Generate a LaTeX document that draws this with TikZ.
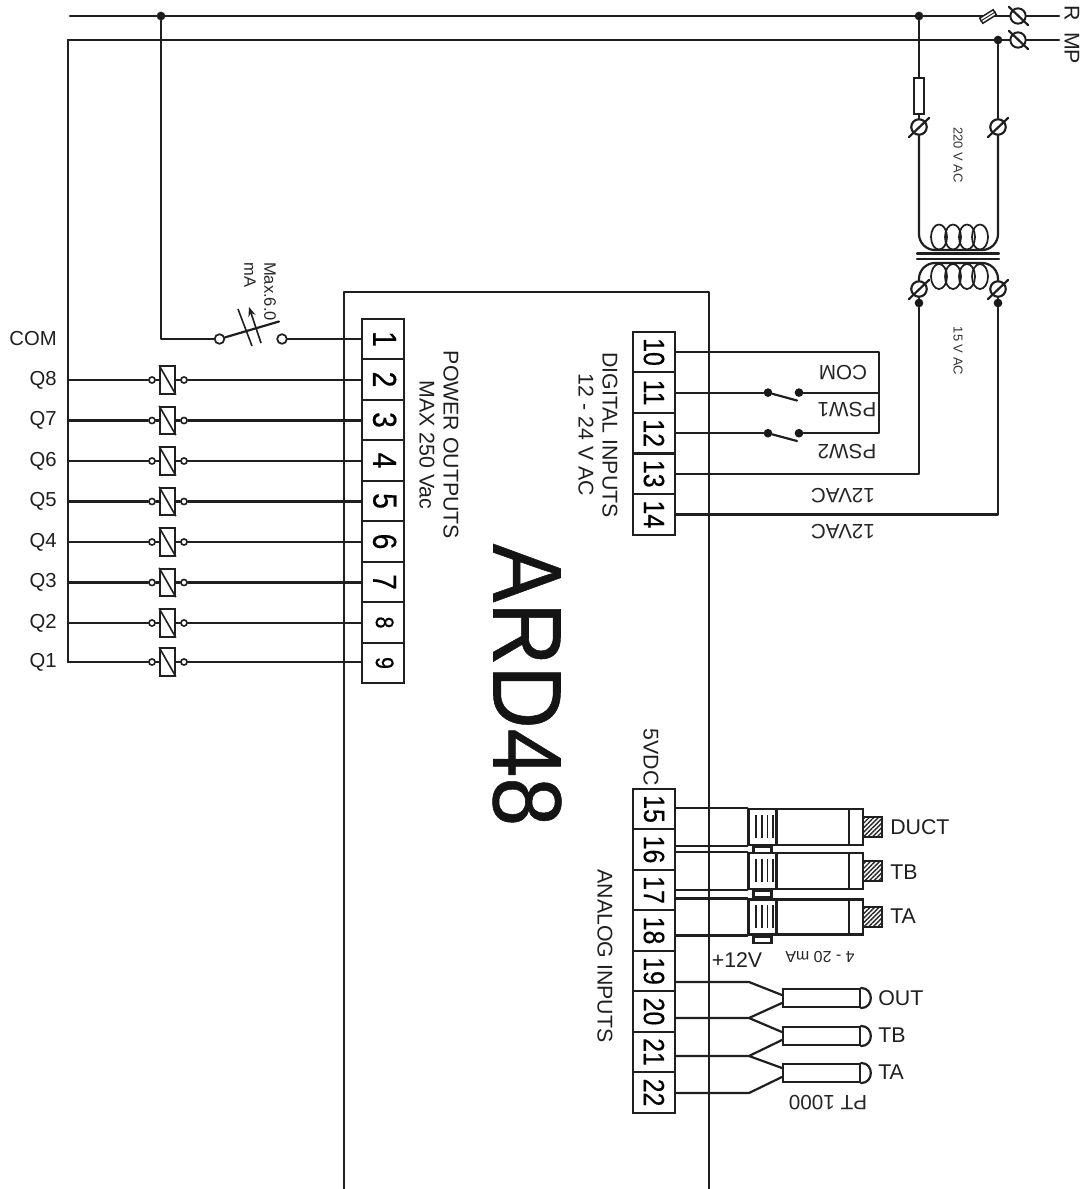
\documentclass[tikz,border=0pt]{standalone}
\usepackage{fontspec}
\setmainfont{Liberation Sans}
\usetikzlibrary{patterns.meta,arrows.meta,calc}
\newcommand{\rotL}[1]{\rotatebox{-90}{#1}}
\newcommand{\rotU}[1]{\rotatebox{180}{#1}}
\newcommand{\heavy}{\addfontfeatures{FakeBold=0.4}}
\newcommand{\bigcell}[1]{\hspace*{2.5pt}\rotatebox{-90}{\fontsize{25}{25}\selectfont\heavy\scalebox{0.85}[1]{#1}}}
\newcommand{\smallcell}[1]{\hspace*{2.5pt}\rotatebox{-90}{\fontsize{19}{19}\selectfont\heavy\scalebox{0.85}[1]{#1}}}
\newcommand{\ancell}[1]{\rotatebox{-90}{\fontsize{22}{22}\selectfont\heavy\scalebox{0.85}[1]{#1}}}
\tikzset{
  wire/.style={line width=1.65pt,line cap=round,line join=round,black!88},
  cell/.style={draw=black!88,line width=1.5pt,fill=white,rectangle,inner sep=0pt,minimum width=31pt,minimum height=30.4pt},
  dot/.style={circle,fill=black!90,inner sep=0pt,minimum size=6.5pt},
  smallc/.style={circle,draw=black!88,line width=1.2pt,fill=white,inner sep=0pt,minimum size=4.6pt},
  swc/.style={circle,draw=black!88,line width=1.3pt,fill=white,inner sep=0pt,minimum size=7.2pt},
  termc/.style={circle,draw=black!88,line width=1.5pt,fill=white,inner sep=0pt,minimum size=11.5pt},
  relayb/.style={rectangle,draw=black!88,line width=1.5pt,fill=white,inner sep=0pt,minimum width=11pt,minimum height=20.5pt},
  lab/.style={inner sep=0pt,font=\fontsize{16}{16}\selectfont,text=black!88},
  qlab/.style={inner sep=0pt,font=\fontsize{15.2}{15.2}\selectfont,text=black!88},
  sm/.style={inner sep=0pt,font=\fontsize{15.5}{15.5}\selectfont,text=black!85},
  tiny/.style={inner sep=0pt,font=\fontsize{9.7}{9.7}\selectfont,text=black!80},
  box/.style={rectangle,draw=black!88,line width=1.6pt,fill=white,inner sep=0pt},
  hatchb/.style={rectangle,draw=black!88,line width=1.5pt,inner sep=0pt,minimum width=14pt,minimum height=15pt,pattern={Lines[angle=45,distance=2.4pt,line width=1pt]},pattern color=black!85}
}
\begin{document}
\begin{tikzpicture}[x=0.75pt,y=-0.75pt]
\useasboundingbox (0,0) rectangle (1091,1189);
% main box
\coordinate (mbl) at (344,1189); \coordinate (mtl) at (344,292);
\coordinate (mtr) at (709,292); \coordinate (mbr) at (709,1189);
% terminal blocks
\foreach \n/\y in {1/339,2/379.5,3/420,4/460.5,5/501,6/541.5,7/582}
  \node[cell] (t\n) at (383,\y) {\bigcell{\n}};
\foreach \n/\y in {8/622.5,9/663}
  \node[cell] (t\n) at (383,\y) {\smallcell{\n}};
\foreach \n/\y in {10/352,11/392.6,12/433.2,13/473.8,14/514.4,15/809,16/849.5,17/890,18/930.5,19/971,20/1011.5,21/1052,22/1092.5}
  \node[cell] (t\n) at (654,\y) {\ancell{\n}};
% top rails
\coordinate (ra) at (70,16); \coordinate (mpa) at (68,40);
\coordinate (rb) at (1059,16); \coordinate (mpb) at (1059,40);
\node[dot] (d1) at (161,16) {};
\node[dot] (d2) at (919,16) {};
\node[dot] (d3) at (998,40) {};
\draw[wire] (ra) -- (rb);
\draw[wire] (mpa) -- (mpb);
\node[termc] (tR) at (1018,16) {};
\node[termc] (tM) at (1018,40) {};
\draw[wire] (1009,7) -- (1028,25);
\draw[wire] (1009,31) -- (1028,49);
\draw[line width=1.1pt,fill=white,draw=black!88,rotate around={32:(988,16.5)}] (980,13.5) rectangle (996,19.5);
\draw[line width=0.7pt,black!88,rotate around={32:(988,16.5)}] (979,16.5) -- (997,16.5);
% transformer
\node[box,minimum width=7.5pt,minimum height=27pt] (fu) at (919,96) {};
\node[termc] (tp1) at (919,127) {};
\node[termc] (tp2) at (998,127) {};
\node[termc] (ts1) at (919,289) {};
\node[termc] (ts2) at (998,289) {};
\draw[wire] (d2) -- (fu.north);
\draw[wire] (fu.south) -- (tp1);
\draw[wire] (d3) -- (tp2);
\draw[wire,rounded corners=12pt] (tp1) -- (919,250) -- (998,250) -- (tp2);
\draw[wire,rounded corners=12pt] (ts1) -- (919,263) -- (998,263) -- (ts2);
\foreach \x in {939,953,967,980}{
  \draw[line width=1.3pt,black!88] (\x,237) ellipse [x radius=8,y radius=12.5];
  \draw[line width=1.3pt,black!88] (\x,276.5) ellipse [x radius=8,y radius=12.5];
}
\node[termc] at (tp1) {}; \node[termc] at (tp2) {};
\foreach \a in {919,998}
  \draw[wire] (\a-10,137) -- (\a+10,118);
\draw[wire] (917,253.5) -- (999,253.5);
\draw[wire] (917,258.7) -- (999,258.7);
\node[dot] (d4) at (919,303) {};
\node[dot] (d5) at (998,303) {};
\node[tiny] at (958,155) {\rotL{220 V AC}};
\node[tiny] at (958,351) {\rotL{15 V AC}};
% digital wiring
\node[dot] (s1a) at (768,392.6) {};
\node[dot] (s1b) at (799,392.6) {};
\node[dot] (s2a) at (768,433.2) {};
\node[dot] (s2b) at (799,433.2) {};
\coordinate (cn1) at (879,352);
\coordinate (cn2) at (879,392.6);
\coordinate (cn3) at (879,433.2);
\draw[wire] (t10.east) -- (cn1) -- (cn3) -- (s2b);
\draw[wire] (t11.east) -- (s1a);
\draw[wire] (t12.east) -- (s2a);
\draw[wire] (s1b) -- (cn2);
\draw[wire] (s1a) -- (797,400.5);
\draw[wire] (s2a) -- (797,441);
\coordinate (k13) at (919,473.8); \coordinate (k14) at (998,514.4);
\draw[wire] (t13.east) -- (k13) -- (d4) -- (ts1);
\draw[wire] (t14.east) -- (k14) -- (d5) -- (ts2);
\node[termc] at (ts1) {}; \node[termc] at (ts2) {};
\draw[wire] (909,299) -- (929,280);
\draw[wire] (988,299) -- (1008,280);
% COM switch
\coordinate (cc) at (161,339);
\node[swc] (sw1) at (219.5,339) {};
\node[swc] (sw2) at (282,339) {};
\draw[wire] (d1) -- (cc) -- (sw1);
\draw[wire] (sw2) -- (t1.west);
\coordinate (blade) at (279,321.5);
\draw[wire] (sw1) -- (blade);
\draw[line width=1.2pt,black!88] (238,309) -- (252,346);
\draw[line width=1.2pt,black!88,-{Stealth[length=7pt,width=5.5pt]}] (261,343) -- (249,307);
% relays
\foreach \n/\y in {8/380,7/420.5,6/461,5/501.5,4/542,3/582.5,2/623,1/662}{
  \pgfmathtruncatemacro{\m}{10-\n}
  \coordinate (qw\n) at (68,\y);
  \node[smallc] (ca\n) at (152,\y) {};
  \node[relayb] (rb\n) at (167.5,\y) {};
  \node[smallc] (cb\n) at (184,\y) {};
  \draw[wire] (qw\n) -- (ca\n);
  \draw[wire] (ca\n) -- (rb\n);
  \draw[wire] (rb\n) -- (cb\n);
  \draw[wire] (cb\n) -- (cb\n -| t\m.west);
  \node[relayb,fill=white] at (rb\n) {};
  \draw[line width=1.2pt,black!88] (rb\n.north west) -- (rb\n.south east);
  \node[qlab,anchor=east] (ql\n) at (57,\y) {Q\n};
}
\draw[wire] (mpa) -- (qw1);
\node[qlab,anchor=east] (qcom) at (57,339) {COM};
% main box edges drawn over wires
\draw[wire] (mbl) -- (mtl) -- (mtr) -- (mbr);
% sensors
\foreach \s/\c/\h in {1/827/27,2/871/27,3/917/26.25}{
  \node[box,minimum width=54pt,minimum height=\h pt] (se\s) at (813,\c) {};
  \node[box,minimum width=21pt,minimum height=\h pt] (sb\s) at (762.5,\c) {};
  \node[box,minimum width=10.5pt,minimum height=\h pt] (sc\s) at (856,\c) {};
  \node[hatchb] (sh\s) at (872.5,\c) {};
  \node[box,minimum width=13.5pt,minimum height=4.5pt,anchor=north] (st\s) at (sb\s.south) {};
  \foreach \x in {756,761.7,767.3,772.7}
    \draw[line width=1.2pt,black!88] (\x,\c-12) -- (\x,\c+11);
}
\draw[wire] (sb1.north west) -- (sb1.north west -| t15.east);
\draw[wire] (sb1.south west) -- (sb1.south west -| t16.east);
\draw[wire] (sb2.north west) -- (sb2.north west -| t16.east);
\draw[wire] (sb2.south west) -- (sb2.south west -| t17.east);
\draw[wire] (sb3.north west) -- (sb3.north west -| t17.east);
\draw[wire] (sb3.south west) -- (sb3.south west -| t18.east);
\node[lab,anchor=west] (lb1) at (890,827) {DUCT};
\node[lab,anchor=west] (lb2) at (890,872) {TB};
\node[lab,anchor=west] (lb3) at (890,916) {TA};
% PT1000
\foreach \s/\c in {1/998,2/1036,3/1073}{
  \node[box,minimum width=57.75pt,minimum height=13.5pt] (pt\s) at (821.5,\c) {};
  \draw[wire] (pt\s.north east) .. controls +(13,0) and +(13,0) .. (pt\s.south east);
}
\coordinate (p19) at (749,982); \coordinate (p20) at (749,1018);
\coordinate (p21) at (749,1056); \coordinate (p22) at (749,1093);
\draw[wire] (t19.east |- p19) -- (p19) -- ($(pt1.west)+(0,-3)$);
\draw[wire] (t20.east |- p20) -- (p20) -- ($(pt1.west)+(0,5)$);
\draw[wire] (p20) -- ($(pt2.west)+(0,-4)$);
\draw[wire] (t21.east |- p21) -- (p21) -- ($(pt2.west)+(0,4)$);
\draw[wire] (p21) -- ($(pt3.west)+(0,-5)$);
\draw[wire] (t22.east |- p22) -- (p22) -- ($(pt3.west)+(0,4)$);
\node[lab,anchor=west] (lo1) at (878,998) {OUT};
\node[lab,anchor=west] (lo2) at (878,1035) {TB};
\node[lab,anchor=west] (lo3) at (878,1072) {TA};
% texts
\node[lab] (tR1) at (1072,13.5) {\rotL{R}};
\node[lab] (tM1) at (1072,48) {\rotL{MP}};
\node[sm,font=\fontsize{12.4}{12.4}\selectfont] (tm1) at (270,291.5) {\rotL{Max.6.0}};
\node[sm,font=\fontsize{12.4}{12.4}\selectfont] (tm2) at (250,275) {\rotL{mA}};
\node[lab] (tpo) at (451,445) {\rotL{POWER OUTPUTS}};
\node[lab] (tmx) at (427,445) {\rotL{MAX 250 Vac}};
\node[lab] (tdi) at (610,435) {\rotL{DIGITAL INPUTS}};
\node[lab] (tdv) at (586,435) {\rotL{12 - 24 V AC}};
\node[inner sep=0pt,text=black!92] (tard) at (527,685) {\rotL{\fontsize{73}{73}\selectfont\addfontfeatures{FakeBold=0.6}\scalebox{0.9}[1]{ARD48}}};
\node[lab] (t5v) at (651,757) {\rotL{5VDC}};
\node[lab] (tan) at (605,956) {\rotL{ANALOG INPUTS}};
\node[lab] (t12) at (737,960) {+12V};
\node[sm,font=\fontsize{12}{12}\selectfont] (t420) at (820,957) {\rotU{4 - 20 mA}};
\node[sm] (tpt) at (828,1103) {\rotU{PT 1000}};
\node[sm] (tcm) at (843,373) {\rotU{COM}};
\node[sm] (tp1t) at (847,410) {\rotU{PSW1}};
\node[sm] (tp2t) at (847,452) {\rotU{PSW2}};
\node[sm] (t12a) at (843,496) {\rotU{12VAC}};
\node[sm] (t12b) at (843,532) {\rotU{12VAC}};
\end{tikzpicture}
\end{document}
